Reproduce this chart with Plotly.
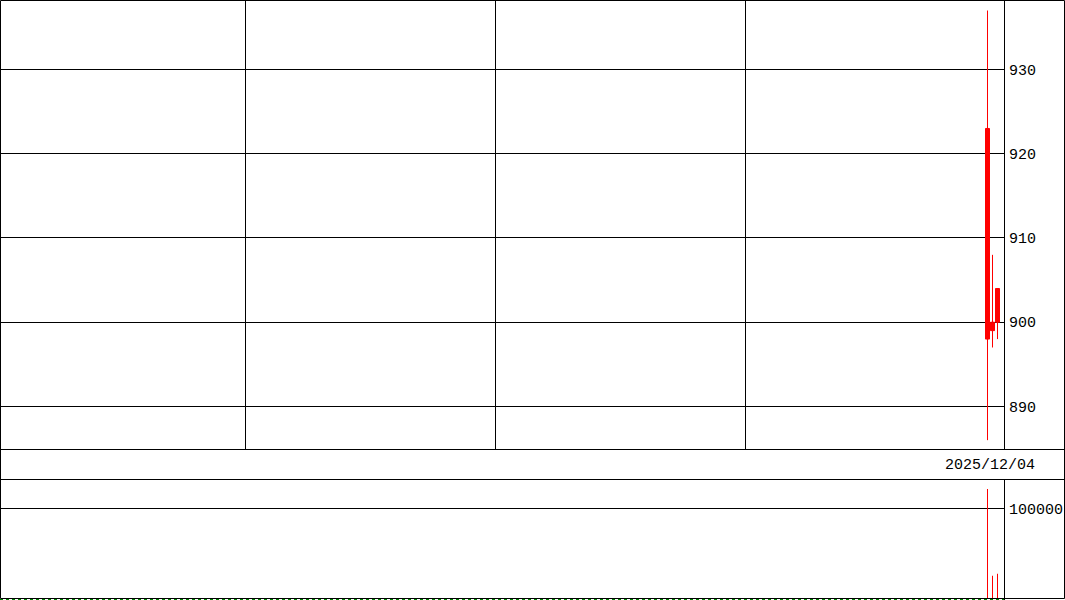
import plotly.graph_objects as go

# intraday bars (5px slots), only the last three have data
bar_index = [197, 198, 199]
open_ = [923, 900, 900]
high = [937, 908, 904]
low = [886, 897, 898]
close = [898, 899, 904]
volume = [121500, 25700, 27900]

date_label = "2025/12/04"
price_ticks = [890, 900, 910, 920, 930]
volume_ticks = [100000]
time_grid = [48.5, 98.5, 148.5]

W, H = 1065, 600
FONT = dict(family="Liberation Mono, DejaVu Sans Mono, monospace", size=15, color="black")


def px_x(p):
    return p / W


def px_y(p):
    return (H - p) / H


fig = go.Figure()

fig.add_trace(go.Candlestick(
    x=bar_index, open=open_, high=high, low=low, close=close,
    increasing=dict(line=dict(color="red", width=1), fillcolor="red"),
    decreasing=dict(line=dict(color="red", width=1), fillcolor="red"),
    whiskerwidth=0, xaxis="x", yaxis="y", hoverinfo="skip",
))

fig.add_trace(go.Bar(
    x=bar_index, y=volume, width=0.2, marker=dict(color="red", line=dict(width=0)),
    xaxis="x2", yaxis="y2", hoverinfo="skip",
))

xdom = [0, px_x(1004)]
fig.update_layout(
    width=W, height=H,
    margin=dict(l=0, r=0, t=0, b=0),
    paper_bgcolor="white", plot_bgcolor="white",
    showlegend=False, hovermode=False,
    boxgap=0.2, boxgroupgap=0,
    font=FONT,
    xaxis=dict(domain=xdom, range=[-0.5, 200.3], tickvals=time_grid, showticklabels=False,
               showgrid=True, gridcolor="black", gridwidth=1, zeroline=False,
               rangeslider=dict(visible=False), fixedrange=True),
    yaxis=dict(domain=[px_y(449), 1], range=[884.95, 938.25], tickvals=price_ticks,
               side="right", ticks="outside", ticklen=1, tickcolor="rgba(0,0,0,0)",
               showgrid=True, gridcolor="black", gridwidth=1, zeroline=False,
               tickfont=FONT, fixedrange=True),
    xaxis2=dict(domain=xdom, range=[-0.5, 200.3], anchor="y2", showticklabels=False,
                showgrid=False, zeroline=False, fixedrange=True),
    yaxis2=dict(domain=[0, px_y(480)], range=[-1105, 131490], tickvals=volume_ticks,
                tickformat="d",
                side="right", ticks="outside", ticklen=1, tickcolor="rgba(0,0,0,0)",
                showgrid=True, gridcolor="black", gridwidth=1, zeroline=False,
                tickfont=FONT, anchor="x2", fixedrange=True),
)

line = dict(color="black", width=1)
shapes = [
    # outer frame
    dict(type="rect", xref="paper", yref="paper", x0=px_x(0.5), x1=px_x(1064.5),
         y0=px_y(598.5), y1=px_y(0.5), line=line),
    # date strip borders
    dict(type="line", xref="paper", yref="paper", x0=0, x1=1, y0=px_y(449.5), y1=px_y(449.5), line=line),
    dict(type="line", xref="paper", yref="paper", x0=0, x1=1, y0=px_y(479.5), y1=px_y(479.5), line=line),
    # price/volume axis separators
    dict(type="line", xref="paper", yref="paper", x0=px_x(1004.5), x1=px_x(1004.5),
         y0=px_y(449.5), y1=1, line=line),
    dict(type="line", xref="paper", yref="paper", x0=px_x(1004.5), x1=px_x(1004.5),
         y0=0, y1=px_y(479.5), line=line),
    # zero line of volume
    dict(type="line", xref="x2 domain", yref="paper", x0=0, x1=1, y0=px_y(599.5), y1=px_y(599.5),
         line=dict(color="green", width=1, dash="dot")),
]
fig.update_layout(shapes=shapes)

fig.add_annotation(text=date_label, xref="paper", yref="paper", x=px_x(989.5), y=px_y(465),
                   xanchor="center", yanchor="middle", showarrow=False, font=FONT)

# page body has a default margin; drop it so the chart sits at the window corner
fig.write_html("out.html", config={"displayModeBar": False},
               post_script="document.body.style.margin='0';")
